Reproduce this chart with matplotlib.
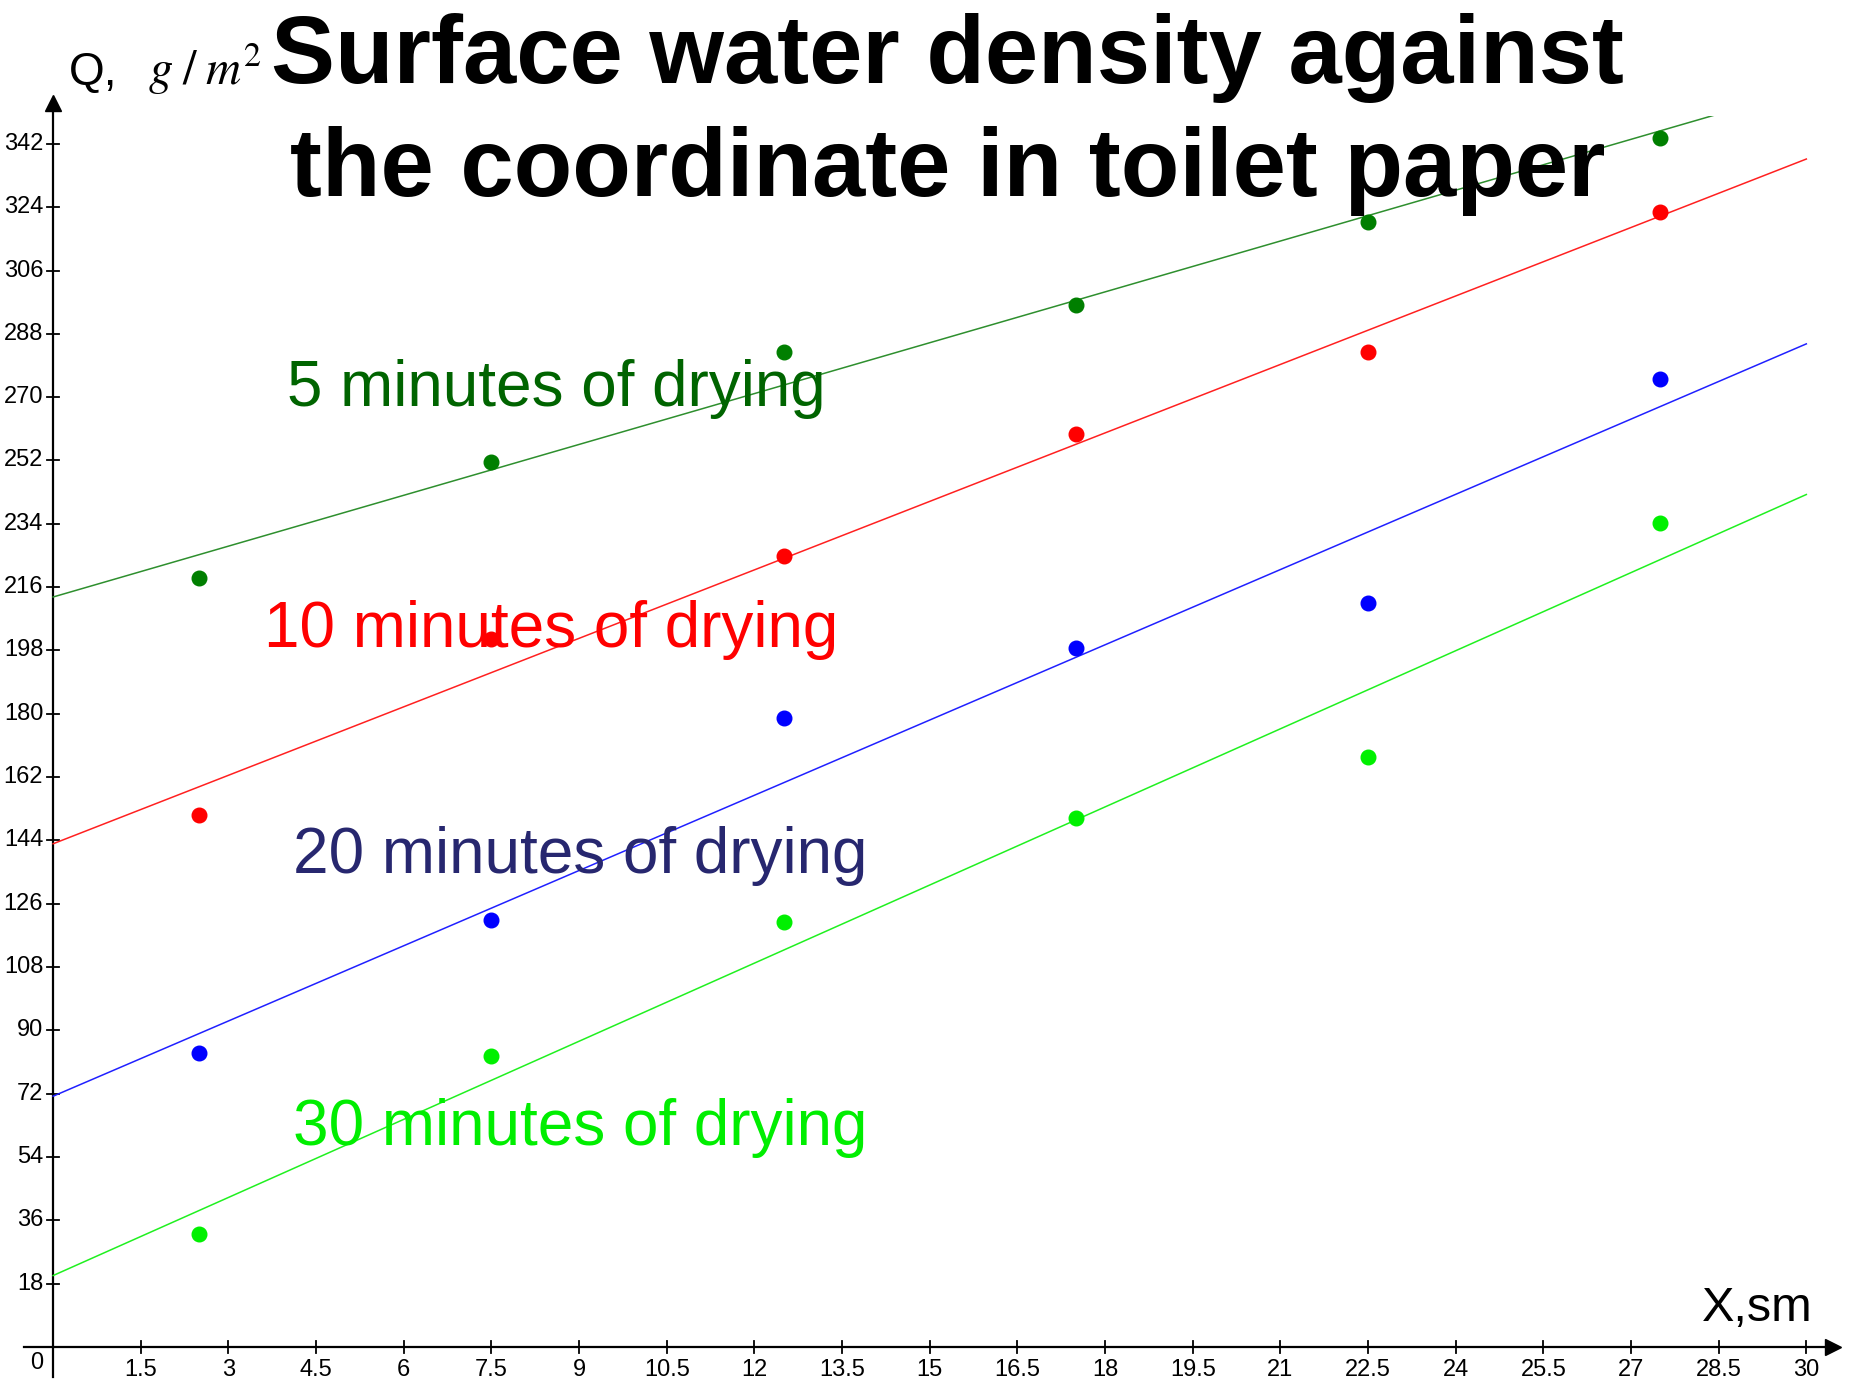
import numpy as np
import matplotlib
matplotlib.use('Agg')
import matplotlib.pyplot as plt
from matplotlib.patches import Rectangle

# position along the paper strip, cm
x_pos = [2.5, 7.5, 12.5, 17.5, 22.5, 27.5]

# surface water density, g/m^2, after each drying time
q_5min = [218.5, 251.7, 282.9, 296.3, 319.8, 343.6]
q_10min = [151.3, 201.3, 224.8, 259.4, 282.9, 322.5]
q_20min = [83.6, 121.5, 178.9, 198.7, 211.4, 275.2]
q_30min = [32.2, 82.6, 120.8, 150.3, 167.8, 234.2]

series_labels = ['5 minutes of drying', '10 minutes of drying',
                 '20 minutes of drying', '30 minutes of drying']

x_ticks = np.arange(1.5, 30.01, 1.5)
y_ticks = np.arange(18, 343, 18)

plt.rcParams['font.family'] = ['Liberation Sans', 'DejaVu Sans']
plt.rcParams['mathtext.fontset'] = 'stix'

fig = plt.figure(figsize=(18.51, 13.82), dpi=100)
ax = fig.add_axes([0.01291, 0.00369, 0.9819, 0.9304])
ax.set_xlim(-0.5, 30.6)
ax.set_ylim(-8.5, 357)
for s in ax.spines.values():
    s.set_visible(False)
ax.set_xticks([])
ax.set_yticks([])

# axes with arrow heads
ax.plot([-0.5, 30.3], [0, 0], color='black', lw=1.6, zorder=2, clip_on=False)
ax.plot([0, 0], [-8.5, 352], color='black', lw=1.6, zorder=2, clip_on=False)
ax.plot(30.45, 0, marker='>', color='black', ms=11, clip_on=False, zorder=3)
ax.plot(0, 353.5, marker='^', color='black', ms=11, clip_on=False, zorder=3)

tick_font = dict(family=['Liberation Sans Narrow', 'Liberation Sans'], fontsize=17)
for t in x_ticks:
    ax.plot([t, t], [-1.6, 1.6], color='black', lw=1.3, clip_on=False)
    ax.text(t, -3.3, f'{t:g}', ha='center', va='top', **tick_font)
for t in y_ticks:
    ax.plot([-0.1, 0.1], [t, t], color='black', lw=1.3, clip_on=False)
    ax.text(-0.17, t, f'{t:g}', ha='right', va='center', **tick_font)
ax.text(-0.17, -1.3, '0', ha='right', va='top', **tick_font)

clip = Rectangle((-0.5, -8.5), 31.1, 358.5, transform=ax.transData)

dot_colors = ['#007f00', '#ff0000', '#0000ff', '#00f000']
line_colors = ['#2e8f2e', '#ff2020', '#2020ff', '#20f020']
all_q = [q_5min, q_10min, q_20min, q_30min]
x_line = np.array([0, 30])
for q, dc, lc in zip(all_q, dot_colors, line_colors):
    k, b = np.polyfit(x_pos, q, 1)
    ln, = ax.plot(x_line, k * x_line + b, color=lc, lw=1.1, zorder=3)
    ln.set_clip_path(clip)
    ax.plot(x_pos, q, 'o', color=dc, ms=10.5, zorder=4)

# series captions
label_colors = ['#006400', '#ff0000', '#27276f', '#00ee00']
label_pos = [(4.0, 272.3), (3.6, 203.7), (4.1, 139.7), (4.1, 62.3)]
for text, c, (lx, ly) in zip(series_labels, label_colors, label_pos):
    ax.text(lx, ly, text, color=c, fontsize=46, ha='left', va='center', zorder=5)

fig.text(0.512, 0.958, 'Surface water density against', ha='center', va='center',
         fontsize=69, fontweight='bold')
fig.text(0.512, 0.876, 'the coordinate in toilet paper', ha='center', va='center',
         fontsize=69, fontweight='bold')

fig.text(0.037, 0.9385, 'Q,', fontsize=33, ha='left', va='baseline')
fig.text(0.080, 0.9385, r'$g\;/\;m^{2}$', fontsize=35, ha='left', va='baseline')

ax.text(30.11, 7.5, 'X,sm', fontsize=35, ha='right', va='baseline')

fig.savefig('out.png', dpi=100, facecolor='white')
